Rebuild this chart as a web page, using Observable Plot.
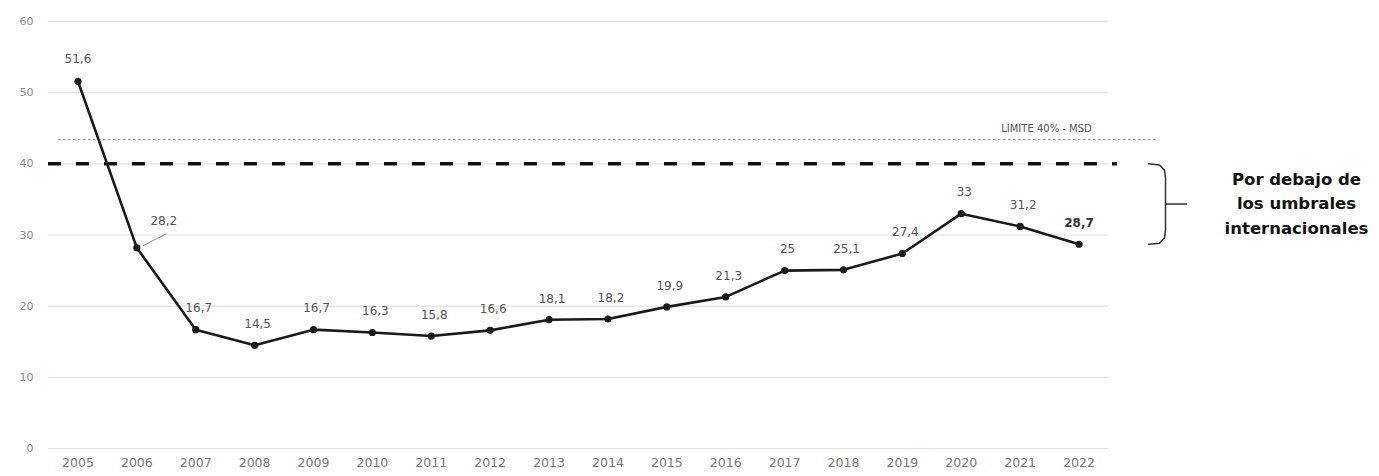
<!DOCTYPE html>
<html>
<head>
<meta charset="utf-8">
<script src="https://cdn.jsdelivr.net/npm/d3@7"></script>
<script src="https://cdn.jsdelivr.net/npm/@observablehq/plot@0.6"></script>
<style>
  html, body { margin: 0; padding: 0; background: #fff; }
  #chart { width: 1379px; height: 476px; }
</style>
</head>
<body>
<div id="chart"></div>
<script>
const years = [2005, 2006, 2007, 2008, 2009, 2010, 2011, 2012, 2013, 2014, 2015, 2016, 2017, 2018, 2019, 2020, 2021, 2022];
const values = [51.6, 28.2, 16.7, 14.5, 16.7, 16.3, 15.8, 16.6, 18.1, 18.2, 19.9, 21.3, 25, 25.1, 27.4, 33, 31.2, 28.7];
const yTicks = [0, 10, 20, 30, 40, 50, 60];
const threshold = 40;
const msdLine = 43.4;
const msdLabel = "LIMITE 40% - MSD";
const bracketBottom = 28.7;
const noteLines = ["Por debajo de", "los umbrales", "internacionales"];

const data = years.map((y, i) => ({ year: y, value: values[i], label: String(values[i]).replace(".", ",") }));
const last = data[data.length - 1];
const first = data[0];
const second = data[1];
const middle = data.slice(2, -1);

const W = 1379, H = 476, mL = 48, mR = 271, mT = 21, mB = 28;
const x0 = 2004.5, x1 = 2022.5;
const step = (W - mL - mR) / (x1 - x0);
const px = p => x0 + (p - mL) / step; // pixel -> x data

const font = "DejaVu Sans, sans-serif";

const bracket = [
  { x: px(1148), y: threshold }, { x: px(1159), y: threshold - 0.15 },
  { x: px(1164), y: threshold - 0.9 }, { x: px(1165), y: threshold - 2 },
  { x: px(1165), y: bracketBottom + 2 }, { x: px(1164), y: bracketBottom + 0.9 },
  { x: px(1159), y: bracketBottom + 0.15 }, { x: px(1148), y: bracketBottom }
];
const midY = (threshold + bracketBottom) / 2;

const plot = Plot.plot({
  width: W, height: H,
  marginLeft: mL, marginRight: mR, marginTop: mT, marginBottom: mB,
  style: { fontFamily: font, background: "#fff", overflow: "visible" },
  x: { domain: [x0, x1], ticks: years, tickFormat: d => String(d), tickSize: 0, tickPadding: 10, label: null },
  y: { domain: [0, 60], ticks: yTicks, tickSize: 0, tickPadding: 15, label: null },
  marks: [
    Plot.ruleY(yTicks, { stroke: "#e2e2e2", strokeWidth: 1.2 }),
    Plot.axisX({ ticks: years, tickFormat: d => String(d), tickSize: 0, tickPadding: 10, fontSize: 12.5, color: "#777", label: null }),
    Plot.axisY({ ticks: yTicks, tickSize: 0, tickPadding: 15, fontSize: 11, color: "#888", label: null }),
    Plot.ruleY([msdLine], { x1: px(58), x2: px(1157), stroke: "#888", strokeWidth: 1, strokeDasharray: "2.5,2.5" }),
    Plot.text([msdLabel], { x: px(1046), y: msdLine, dy: -11, text: d => d, fontSize: 10, fill: "#555" }),
    Plot.ruleY([threshold], { x1: px(48), x2: px(1117), stroke: "#111", strokeWidth: 3.5, strokeDasharray: "13,15" }),
    Plot.line(data, { x: "year", y: "value", stroke: "#1a1a1a", strokeWidth: 2.6 }),
    Plot.dot(data, { x: "year", y: "value", r: 3.6, fill: "#1a1a1a" }),
    Plot.text([first], { x: "year", y: "value", text: "label", dy: -22, fontSize: 12, fill: "#555" }),
    Plot.link([second], { x1: "year", y1: "value", x2: d => d.year + 0.4, y2: d => d.value + 1.7, stroke: "#888", strokeWidth: 1, dx: 6, dy: -2 }),
    Plot.text([second], { x: "year", y: "value", text: "label", dx: 27, dy: -27, fontSize: 12, fill: "#555" }),
    Plot.text(middle, { x: "year", y: "value", text: "label", dx: 3, dy: -21, fontSize: 12, fill: "#555" }),
    Plot.text([last], { x: "year", y: "value", text: "label", dy: -21, fontSize: 12, fontWeight: "bold", fill: "#333" }),
    Plot.line(bracket, { x: "x", y: "y", stroke: "#333", strokeWidth: 1.5 }),
    Plot.ruleY([midY], { x1: px(1165), x2: px(1187), stroke: "#333", strokeWidth: 1.5 }),
    Plot.text(noteLines, { x: px(1296), y: (d, i) => midY + (1 - i) * 3.4, text: d => d, fontSize: 16.5, fontWeight: "bold", fill: "#111" })
  ]
});
document.getElementById("chart").appendChild(plot);
</script>
</body>
</html>
